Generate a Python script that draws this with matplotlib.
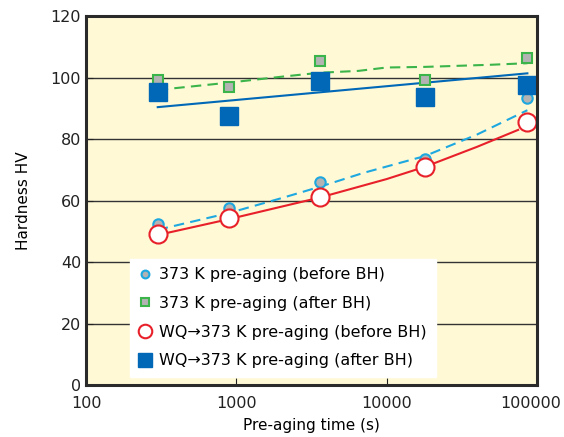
import numpy as np
import matplotlib.pyplot as plt
import matplotlib.transforms as mtransforms

plt.rcParams['font.family'] = ['DejaVu Sans']

# measured pre-aging times (s)
t = [300, 900, 3600, 18000, 86400]

hv_373_before = [52.5, 57.5, 66.0, 73.5, 93.3]
hv_373_after = [99.3, 97.0, 105.5, 99.3, 106.3]
hv_wq_before = [49.2, 54.3, 61.2, 70.8, 85.5]
hv_wq_after = [95.2, 87.5, 98.9, 93.8, 97.7]

# trend lines
fit_373_before_t = [300, 900, 2000, 3600, 7000, 18000, 40000, 86400]
fit_373_before_hv = [50.5, 56.0, 60.8, 64.5, 69.0, 74.5, 81.5, 89.4]
fit_373_after_t = [300, 900, 2000, 3600, 6500, 10000, 18000, 50000, 86400]
fit_373_after_hv = [96.0, 98.4, 100.3, 101.6, 102.2, 103.3, 103.5, 104.2, 104.7]
fit_wq_before_t = [300, 900, 3600, 10000, 18000, 40000, 75000]
fit_wq_before_hv = [48.8, 54.0, 61.0, 67.0, 71.0, 77.5, 83.0]
fit_wq_after_t = [300, 86400]
fit_wq_after_hv = [90.4, 101.4]

labels = ['373 K pre-aging (before BH)',
          '373 K pre-aging (after BH)',
          'WQ→373 K pre-aging (before BH)',
          'WQ→373 K pre-aging (after BH)']

c_cyan = '#1ea8e0'
c_green = '#3bb44a'
c_red = '#e8202a'
c_blue = '#0068b7'

fig = plt.figure(figsize=(5.64, 4.37), dpi=100)
ax = fig.add_axes([0.1525, 0.119, 0.7995, 0.844])
ax.set_facecolor('#fff9d6')

ax.plot(fit_373_before_t, fit_373_before_hv, '--', color=c_cyan, lw=1.5, dashes=(5, 3))
ax.plot(fit_373_after_t, fit_373_after_hv, '--', color=c_green, lw=1.5, dashes=(5, 3))
ax.plot(fit_wq_before_t, fit_wq_before_hv, '-', color=c_red, lw=1.5)
ax.plot(fit_wq_after_t, fit_wq_after_hv, '-', color=c_blue, lw=1.5)

ax.plot(t, hv_373_before, 'o', ms=7.5, mfc='#b3b3b3', mec=c_cyan, mew=1.5, ls='none', label=labels[0])
ax.plot(t, hv_373_after, 's', ms=7.5, mfc='#b3b3b3', mec=c_green, mew=1.5, ls='none', label=labels[1])
ax.plot(t, hv_wq_before, 'o', ms=13, mfc='white', mec=c_red, mew=1.5, ls='none', label=labels[2])
ax.plot(t, hv_wq_after, 's', ms=13, mfc=c_blue, mec=c_blue, ls='none', label=labels[3])

ax.set_xscale('log')
ax.set_xlim(100, 100000)
ax.set_ylim(0, 120)
ax.set_xticks([100, 1000, 10000, 100000])
ax.set_xticklabels(['100', '1000', '10000', '100000'])
ax.minorticks_off()
ax.set_yticks(range(0, 121, 20))
ax.yaxis.grid(True, color='#333333', lw=1)
ax.set_axisbelow(True)
ax.tick_params(direction='in', length=5, labelsize=11.5, colors='#222222')
ax.tick_params(axis='x', pad=8)
for s in ax.spines.values():
    s.set_linewidth(2.2)
    s.set_color('#2a2a2a')

# nudge the last x label left so it stays inside the figure
last = ax.get_xticklabels()[-1]
last.set_transform(last.get_transform() + mtransforms.ScaledTranslation(-6 / 100, 0, fig.dpi_scale_trans))

ax.set_xlabel('Pre-aging time (s)', fontsize=11, labelpad=5)
ax.set_ylabel('Hardness HV', fontsize=11, labelpad=14)

leg = ax.legend(loc='lower left', bbox_to_anchor=(0.097, 0.022), fontsize=11.5,
                frameon=True, fancybox=False, framealpha=1, edgecolor='white',
                handlelength=0.8, handletextpad=0.5, labelspacing=0.85,
                borderpad=0.55, markerscale=0.75, borderaxespad=0)

fig.savefig('out.png', dpi=100)
